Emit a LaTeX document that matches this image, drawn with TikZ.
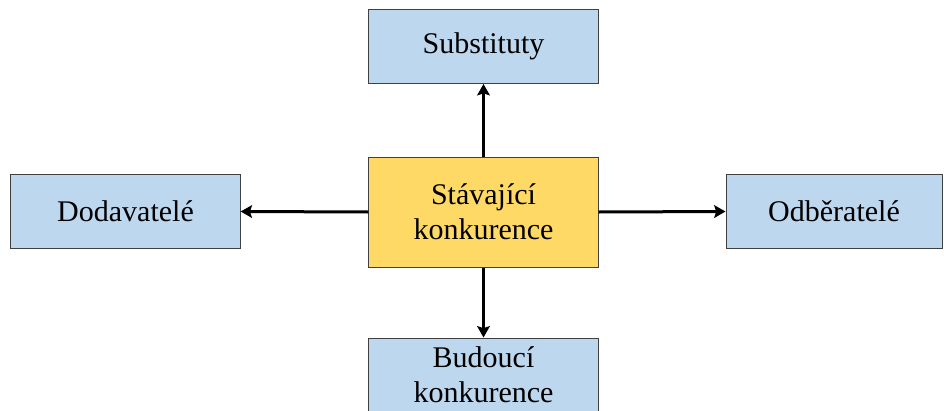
\documentclass[tikz,border=0pt]{standalone}
\usepackage{fontspec}
\setmainfont{Liberation Serif}
\usetikzlibrary{arrows.meta}
\definecolor{boxblue}{RGB}{189,215,238}
\definecolor{boxyellow}{RGB}{255,217,102}
\definecolor{boxline}{RGB}{64,64,64}
\tikzset{every picture/.style={line width=0.75pt}}
\tikzset{
  force/.style={draw=boxline, fill=boxblue, align=center, inner sep=0.75pt, font=\fontsize{22.5}{26.5}\selectfont},
  core/.style={force, fill=boxyellow},
  flow/.style={line width=2.25pt, -{Stealth[length=8.5pt,width=9.5pt,inset=1.5pt]}}
}

\begin{document}
\begin{tikzpicture}[x=0.75pt,y=0.75pt,yscale=-1,xscale=1]
%set diagram size 944 x 410
\clip (0,0) rectangle (944,410);

%Shape: Rectangle [center]
\node (stav) [core, minimum width=172pt, minimum height=82.5pt] at (483.5,212) {Stávající\\konkurence};
%Shape: Rectangle [top]
\node (subst) [force, minimum width=172pt, minimum height=55.5pt] at (483.5,46.5) {Substituty};
%Shape: Rectangle [left]
\node (dodav) [force, minimum width=172pt, minimum height=55.5pt] at (125.5,211.5) {Dodavatelé};
%Shape: Rectangle [right]
\node (odber) [force, minimum width=162pt, minimum height=55.5pt] at (834,211.5) {Odběratelé};
%Shape: Rectangle [bottom]
\node (budou) [force, minimum width=172pt, minimum height=55.5pt] at (483.5,375) {Budoucí\\konkurence};

%Straight Lines
\draw [flow] (stav.north) -- (subst.south);
\draw [flow] (stav.west) -- (dodav.east);
\draw [flow] (stav.east) -- (odber.west);
\draw [flow] (stav.south) -- (budou.north);

\end{tikzpicture}
\end{document}
